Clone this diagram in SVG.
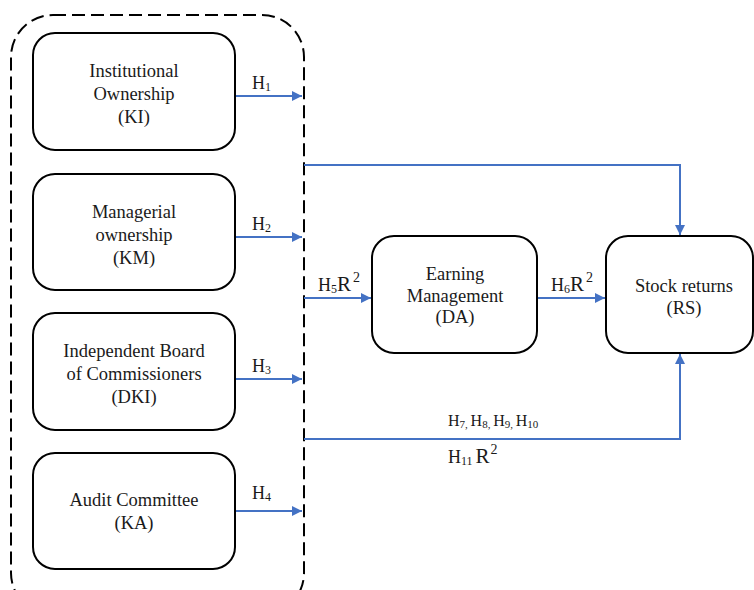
<svg xmlns="http://www.w3.org/2000/svg" width="754" height="590" viewBox="0 0 754 590">
<style>
.box{fill:#fff;stroke:#000;stroke-width:2}
text{font-family:'Liberation Serif','Times New Roman',serif;fill:#1a1a1a}
.t{font-size:18.5px;text-anchor:middle}
.l{font-size:18px}
.m{font-size:16px}
.c{fill:none;stroke:#4472c4;stroke-width:2}
.s{font-size:12px}
.ss{font-size:11px}
.r{font-size:21px}
.p{font-size:14px}
</style>
<defs>
<marker id="ah" viewBox="0 0 10 10" refX="10" refY="5" markerWidth="5" markerHeight="5" orient="auto" markerUnits="strokeWidth">
<path d="M0,0 L10,5 L0,10 z" fill="#4472c4"/>
</marker>
</defs>
<rect width="754" height="590" fill="#fff"/>
<g id="container">
<rect x="11" y="15" width="293" height="600" rx="42" ry="42" fill="none" stroke="#000" stroke-width="2" stroke-dasharray="13,6"/>
</g>
<g id="connectors">
<line class="c" x1="235" y1="96" x2="302" y2="96" marker-end="url(#ah)"/>
<line class="c" x1="235" y1="237" x2="302" y2="237" marker-end="url(#ah)"/>
<line class="c" x1="235" y1="379" x2="302" y2="379" marker-end="url(#ah)"/>
<line class="c" x1="235" y1="511" x2="302" y2="511" marker-end="url(#ah)"/>
<line class="c" x1="304" y1="298" x2="371" y2="298" marker-end="url(#ah)"/>
<line class="c" x1="538" y1="298" x2="605" y2="298" marker-end="url(#ah)"/>
<polyline class="c" points="304,165 680,165 680,235" marker-end="url(#ah)"/>
<polyline class="c" points="304,439 680,439 680,354" marker-end="url(#ah)"/>
</g>
<g id="KI">
<rect class="box" x="33" y="33" width="202" height="117" rx="22"/>
<text class="t" x="134" y="77">Institutional</text>
<text class="t" x="134" y="100">Ownership</text>
<text class="t" x="134" y="123">(KI)</text>
</g>
<g id="KM">
<rect class="box" x="33" y="174" width="202" height="116" rx="22"/>
<text class="t" x="134" y="218">Managerial</text>
<text class="t" x="134" y="241">ownership</text>
<text class="t" x="134" y="264">(KM)</text>
</g>
<g id="DKI">
<rect class="box" x="33" y="313" width="202" height="117" rx="22"/>
<text class="t" x="134" y="357">Independent Board</text>
<text class="t" x="134" y="380">of Commissioners</text>
<text class="t" x="134" y="403">(DKI)</text>
</g>
<g id="KA">
<rect class="box" x="33" y="453" width="202" height="116" rx="22"/>
<text class="t" x="134" y="506">Audit Committee</text>
<text class="t" x="134" y="529">(KA)</text>
</g>
<g id="DA">
<rect class="box" x="372" y="236" width="165" height="117" rx="22"/>
<text class="t" x="455" y="280">Earning</text>
<text class="t" x="455" y="302">Management</text>
<text class="t" x="455" y="323">(DA)</text>
</g>
<g id="RS">
<rect class="box" x="606" y="236" width="147" height="117" rx="22"/>
<text class="t" x="684" y="292">Stock returns</text>
<text class="t" x="684" y="314">(RS)</text>
</g>
<g id="labels">
<text class="l" x="252" y="89">H<tspan class="s" dy="2">1</tspan></text>
<text class="l" x="252" y="230">H<tspan class="s" dy="2">2</tspan></text>
<text class="l" x="252" y="372">H<tspan class="s" dy="2">3</tspan></text>
<text class="l" x="252" y="499">H<tspan class="s" dy="2">4</tspan></text>
<text class="l" x="318" y="291">H<tspan class="s" dy="2">5</tspan><tspan class="r" dy="-2">R</tspan><tspan class="p" dy="-9" dx="2">2</tspan></text>
<text class="l" x="551" y="291">H<tspan class="s" dy="2">6</tspan><tspan class="r" dy="-2">R</tspan><tspan class="p" dy="-9" dx="2">2</tspan></text>
<text class="m" x="448" y="426">H<tspan class="ss" dy="2">7, </tspan><tspan dy="-2">H</tspan><tspan class="ss" dy="2">8, </tspan><tspan dy="-2">H</tspan><tspan class="ss" dy="2">9, </tspan><tspan dy="-2">H</tspan><tspan class="ss" dy="2">10</tspan></text>
<text class="l" x="448" y="463">H<tspan class="s" dy="2">11 </tspan><tspan class="r" dy="-2">R</tspan><tspan class="p" dy="-9" dx="1">2</tspan></text>
</g>
</svg>
